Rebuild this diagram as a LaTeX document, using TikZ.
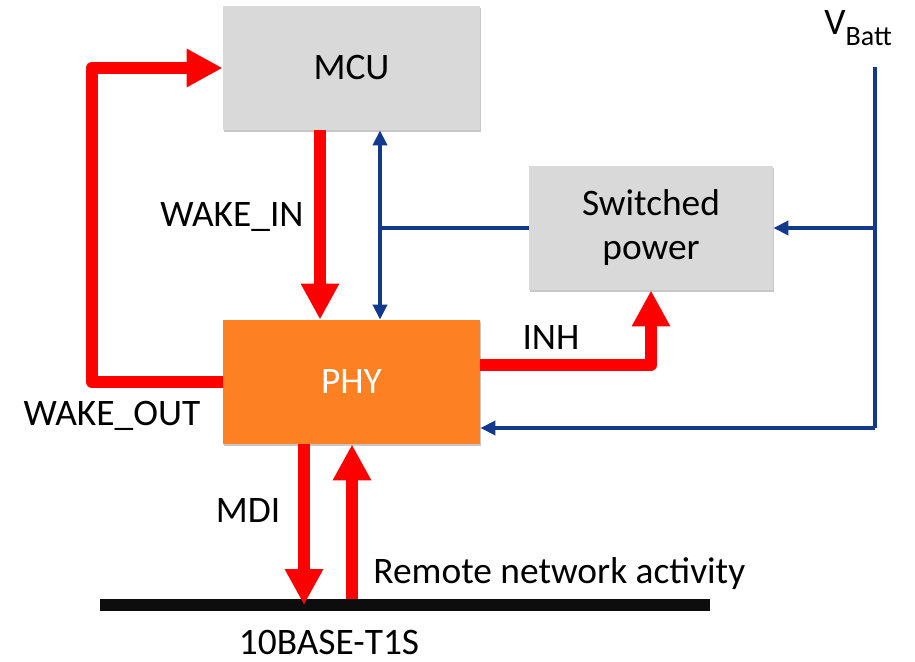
\documentclass[tikz,border=0pt]{standalone}
\usepackage{fontspec}
\setmainfont{Carlito}
\usetikzlibrary{arrows.meta,shadows}
\definecolor{sigred}{RGB}{255,0,0}
\definecolor{pwrblue}{RGB}{18,58,140}
\definecolor{boxgray}{RGB}{217,217,217}
\definecolor{phyorange}{RGB}{253,128,35}
\definecolor{busblack}{RGB}{13,13,13}
\begin{document}
\begin{tikzpicture}[x=0.5pt,y=-0.5pt,
  txt/.style={font=\fontsize{18.7}{22}\selectfont, inner sep=0pt},
  block/.style={txt, rectangle, fill=boxgray, minimum width=128.5pt,
    minimum height=62pt, align=center,
    drop shadow={shadow xshift=0.6pt, shadow yshift=-1.2pt, fill=black, opacity=0.22}},
  phyblock/.style={block, fill=phyorange, text=white},
  swblock/.style={block, minimum width=122pt},
  sig/.style={draw=sigred, line width=6pt, line join=round,
    -{Triangle[length=18pt,width=18pt]}},
  pwr/.style={draw=pwrblue, line width=2pt, line join=round},
  pwrtip/.style={-{Triangle[length=7.5pt,width=7pt]}},
  bus/.style={draw=busblack, line width=6pt}]
\useasboundingbox (0,0) rectangle (915,662);

% blocks
\node[block] (mcu) at (351.5,68) {MCU};
\node[phyblock] (phy) at (351.5,382) {PHY};
\node[swblock] (sw) at (651,228) {Switched\\power};

% bus and supply points
\coordinate (busL) at (100,605);
\coordinate (busR) at (710,605);
\coordinate (vtop) at (875,67);
\coordinate (vmid) at (875,228);
\coordinate (vbot) at (875,428);
\coordinate (tap) at (380,228);
\coordinate (woL) at (92,382);
\coordinate (woT) at (92,68);
\coordinate (inhB) at (651,365);

% labels
\node[txt, anchor=base] (lwin) at (232,227) {WAKE\_IN};
\node[txt, anchor=base] (lwout) at (112,425) {WAKE\_OUT};
\node[txt, anchor=base] (linh) at (551,350) {INH};
\node[txt, anchor=base] (lmdi) at (248,522) {MDI};
\node[txt, anchor=base west] (lrem) at (373,583) {Remote network activity};
\node[txt, anchor=base] (lbus) at (329,654) {10BASE-T1S};
\node[txt, anchor=base west] (lvb) at (824,35) {V\raisebox{-5.5pt}{\fontsize{14}{16}\selectfont Batt}};

% supply wiring
\draw[pwr] (vtop) -- (vbot);
\draw[pwr, pwrtip] (vbot) -- (phy.east |- vbot);
\draw[pwr, pwrtip] (vmid) -- (sw.east);
\draw[pwr] (sw.west) -- (tap);
\draw[pwr, {Triangle[length=7.5pt,width=7pt]}-{Triangle[length=7.5pt,width=7pt]}]
  (380,0 |- mcu.south) -- (380,0 |- phy.north);

% wake and inhibit signals
\draw[sig] (phy.west) -- (woL) -- (woT) -- (mcu.west);
\draw[sig] (320,0 |- mcu.south) -- (320,0 |- phy.north);
\draw[sig] (phy.east |- inhB) -- (inhB) -- (sw.south);

% network bus
\draw[bus] (busL) -- (busR);
\draw[sig] (304,0 |- phy.south) -- (304,0 |- busL);
\draw[sig] (352,599) -- (352,0 |- phy.south);
\end{tikzpicture}
\end{document}
